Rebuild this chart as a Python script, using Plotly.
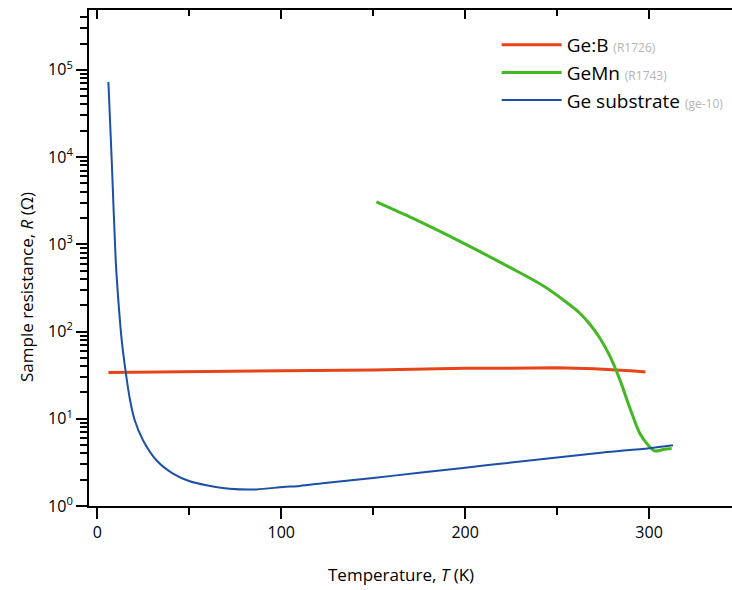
import plotly.graph_objects as go

# ---- data ----
geb_T = [6, 20, 50, 100, 150, 200, 230, 250, 270, 285, 292, 298]
geb_R = [33.8, 34.0, 34.3, 35.0, 36.3, 37.8, 38.5, 38.3, 37.5, 36.3, 35.2, 34.3]

gemn_T = [151.7, 169.9, 188.0, 206.2, 224.3, 242.4, 255.2, 262.4, 267.8, 273.3, 278.7, 284.2, 289.6, 295.0,
          299.6, 303.2, 307.7, 312.3]
gemn_R = [3062, 2061, 1349, 863, 543, 334, 215, 162, 121, 83.8, 52.1, 27.7, 13.2, 6.77,
          4.97, 4.27, 4.43, 4.55]

ge_T = [5.98, 7.78, 9.95, 11.59, 13.22, 15.4, 17.57, 20.3, 24.8, 32.1, 41.1, 50.2, 59.3, 72, 86.5, 101,
        110, 125, 150, 175, 200, 225, 250, 275, 300, 313]
ge_R = [72300, 9230, 658, 199.6, 79.5, 34.2, 17.2, 9.6, 5.67, 3.34, 2.35, 1.92, 1.73, 1.58, 1.55, 1.65,
        1.7, 1.85, 2.1, 2.4, 2.75, 3.15, 3.6, 4.1, 4.6, 4.98]

names = [
    "Ge:B <span style='font-size:12px;color:#b4b4b4'>(R1726)</span>",
    "GeMn <span style='font-size:12px;color:#b4b4b4'>(R1743)</span>",
    "Ge substrate <span style='font-size:12px;color:#b4b4b4'>(ge-10)</span>",
]
colors = ["#e8441a", "#44b824", "#1c4fa6"]

y_major = [1, 10, 100, 1000, 10000, 100000]
y_major_text = ["10<sup>0</sup>", "10<sup>1</sup>", "10<sup>2</sup>", "10<sup>3</sup>", "10<sup>4</sup>", "10<sup>5</sup>"]
y_minor = [k * 10 ** n for n in range(0, 6) for k in range(2, 10) if k * 10 ** n < 4.8e5]

x_title = "Temperature, <i>T</i> (K)"
y_title = "Sample resistance, <i>R</i> (Ω)"

fig = go.Figure()
fig.add_trace(go.Scatter(x=geb_T, y=geb_R, mode="lines", name=names[0], legendgroup="a",
                         line=dict(color=colors[0], width=3)))
fig.add_trace(go.Scatter(x=gemn_T, y=gemn_R, mode="lines", name=names[1], legendgroup="b",
                         line=dict(color=colors[1], width=3, shape="spline", smoothing=0.8)))
fig.add_trace(go.Scatter(x=ge_T, y=ge_R, mode="lines", name=names[2], legendgroup="c",
                         line=dict(color=colors[2], width=2, shape="spline", smoothing=0.8)))
# invisible trace to keep top axis drawn
fig.add_trace(go.Scatter(x=[0], y=[1], xaxis="x2", mode="lines", showlegend=False,
                         hoverinfo="skip", line=dict(width=0)))

font = "Open Sans"
fig.update_layout(
    width=732, height=590,
    margin=dict(l=89, r=0, t=10, b=84),
    paper_bgcolor="white", plot_bgcolor="white",
    font=dict(family=font, size=16, color="black"),
    showlegend=True,
    legend=dict(x=0.634, y=0.968, xanchor="left", yanchor="top",
                font=dict(family=font, size=19, color="black"),
                bgcolor="rgba(0,0,0,0)", itemwidth=60, tracegroupgap=0),
    xaxis=dict(
        range=[-4.57, 345.1], showline=True, linecolor="black", linewidth=2,
        showgrid=False, zeroline=False,
        tickmode="linear", tick0=0, dtick=100, ticks="outside", ticklen=11, tickwidth=2,
        tickcolor="black", tickfont=dict(size=16),
        minor=dict(tickmode="linear", tick0=0, dtick=50, ticks="outside", ticklen=7,
                   tickwidth=2, tickcolor="black", showgrid=False),
    ),
    xaxis2=dict(
        overlaying="x", side="top", matches="x", anchor="y",
        showline=True, linecolor="black", linewidth=2, showgrid=False, zeroline=False,
        showticklabels=False, tickmode="linear", tick0=0, dtick=100,
        ticks="inside", ticklen=9, tickwidth=2, tickcolor="black",
        minor=dict(tickmode="linear", tick0=0, dtick=50, ticks="inside", ticklen=6,
                   tickwidth=2, tickcolor="black", showgrid=False),
    ),
    yaxis=dict(
        type="log", range=[0, 5.685], showline=True, linecolor="black", linewidth=2,
        showgrid=False, zeroline=False,
        tickmode="array", tickvals=y_major, ticktext=y_major_text,
        ticks="outside", ticklen=11, tickwidth=2, tickcolor="black", tickfont=dict(size=16),
        minor=dict(tickmode="array", tickvals=y_minor, ticks="outside", ticklen=7,
                   tickwidth=1.5, tickcolor="black", showgrid=False),
    ),
    annotations=[
        dict(text=x_title, xref="paper", yref="paper", x=0.4852, y=-0.139,
             xanchor="center", yanchor="middle", showarrow=False, font=dict(size=17)),
        dict(text=y_title, xref="paper", yref="paper", x=-0.098, y=0.4415, textangle=-90,
             xanchor="center", yanchor="middle", showarrow=False, font=dict(size=17)),
    ],
)

fig.write_html("out.html")
